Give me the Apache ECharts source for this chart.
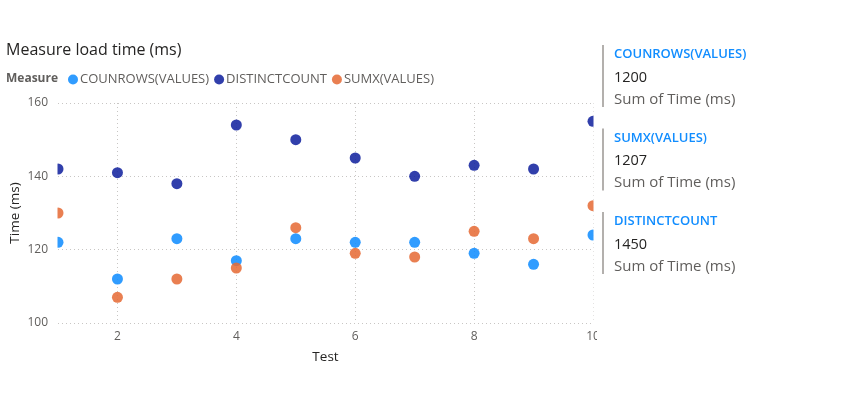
<!DOCTYPE html>
<html>
<head>
<meta charset="utf-8">
<script src="https://cdn.jsdelivr.net/npm/echarts@6/dist/echarts.min.js"></script>
<style>
html,body{margin:0;padding:0;background:#fff;}
#chart{width:841px;height:394px;}
</style>
</head>
<body>
<div id="chart"></div>
<script>
const tests = [1, 2, 3, 4, 5, 6, 7, 8, 9, 10];
const countrowsValues = [122, 112, 123, 117, 123, 122, 122, 119, 116, 124];
const distinctcountValues = [142, 141, 138, 154, 150, 145, 140, 143, 142, 155];
const sumxValues = [130, 107, 112, 115, 126, 119, 118, 125, 123, 132];
const seriesNames = ['COUNROWS(VALUES)', 'DISTINCTCOUNT', 'SUMX(VALUES)'];
const yTicks = [100, 120, 140, 160];
const cardOrder = ['COUNROWS(VALUES)', 'SUMX(VALUES)', 'DISTINCTCOUNT'];

const colors = {
  'COUNROWS(VALUES)': '#118DFF',
  'DISTINCTCOUNT': '#12239E',
  'SUMX(VALUES)': '#E66C37'
};
const valuesByName = {
  'COUNROWS(VALUES)': countrowsValues,
  'DISTINCTCOUNT': distinctcountValues,
  'SUMX(VALUES)': sumxValues
};
const FONT = '"Open Sans", "Noto Sans", sans-serif';

const chart = echarts.init(document.getElementById('chart'), null, {renderer: 'canvas'});

const series = seriesNames.map(name => ({
  name: name,
  type: 'scatter',
  symbol: 'circle',
  symbolSize: 11,
  clip: true,
  itemStyle: {color: colors[name], opacity: 0.87},
  emphasis: {disabled: true},
  data: tests.map((t, i) => [t, valuesByName[name][i]])
}));

const sum = arr => arr.reduce((a, b) => a + b, 0);
const cards = [];
cardOrder.forEach((name, k) => {
  const top = 45 + k * 83.5;
  cards.push({
    type: 'rect', z: 100,
    shape: {x: 602, y: top, width: 2, height: 62},
    style: {fill: '#b3b0ad'}
  });
  cards.push({
    type: 'text', z: 100, left: 614, top: top + 3,
    style: {text: name, fill: '#118DFF', font: '600 13px ' + FONT}
  });
  cards.push({
    type: 'text', z: 100, left: 614, top: top + 25,
    style: {text: String(sum(valuesByName[name])), fill: '#252423', font: '14.5px ' + FONT}
  });
  cards.push({
    type: 'text', z: 100, left: 614, top: top + 47,
    style: {text: 'Sum of Time (ms)', fill: '#605E5C', font: '15px ' + FONT}
  });
});

const option = {
  animation: false,
  backgroundColor: '#ffffff',
  textStyle: {fontFamily: FONT},
  grid: {left: 58, right: 248, top: 103, bottom: 71, containLabel: false, outerBoundsMode: 'none'},
  legend: {
    left: 68, top: 73,
    padding: 0,
    icon: 'circle',
    itemWidth: 10, itemHeight: 10, itemGap: 5,
    data: seriesNames,
    textStyle: {color: '#605E5C', fontSize: 13, fontFamily: FONT, padding: [0, 0, 0, -3]},
    selectedMode: false
  },
  xAxis: {
    type: 'value',
    min: 1, max: 10, splitNumber: 5,
    name: 'Test', nameLocation: 'middle', nameGap: 27, nameMoveOverlap: false,
    nameTextStyle: {color: '#252423', fontSize: 13.5, fontFamily: FONT},
    axisLine: {show: false}, axisTick: {show: false},
    axisLabel: {showMinLabel: false, color: '#605E5C', fontSize: 12, margin: 8, fontFamily: FONT},
    splitLine: {show: true, showMinLine: false, lineStyle: {type: [1, 3], color: '#c8c6c4', width: 1}}
  },
  yAxis: {
    type: 'value',
    min: yTicks[0], max: yTicks[yTicks.length - 1], interval: yTicks[1] - yTicks[0],
    name: 'Time (ms)', nameLocation: 'middle', nameGap: 36, nameRotate: 90, nameMoveOverlap: false,
    nameTextStyle: {color: '#252423', fontSize: 13.5, fontFamily: FONT},
    axisLine: {show: false}, axisTick: {show: false},
    axisLabel: {color: '#605E5C', fontSize: 12, margin: 10, fontFamily: FONT},
    splitLine: {show: true, lineStyle: {type: [1, 3], color: '#c8c6c4', width: 1}}
  },
  graphic: [
    {type: 'text', left: 6, top: 42, style: {text: 'Measure load time (ms)', fill: '#252423', font: '16px ' + FONT}},
    {type: 'text', left: 6, top: 73, style: {text: 'Measure', fill: '#605E5C', font: 'bold 12px ' + FONT}},
    {type: 'rect', z: 90, shape: {x: 50, y: 100, width: 7.5, height: 226}, style: {fill: '#ffffff'}},
    {type: 'rect', z: 90, shape: {x: 593.5, y: 100, width: 8, height: 222}, style: {fill: '#ffffff'}},
    {type: 'rect', z: 90, shape: {x: 597, y: 322, width: 10, height: 28}, style: {fill: '#ffffff'}}
  ].concat(cards),
  series: series
};
chart.setOption(option);
</script>
</body>
</html>
